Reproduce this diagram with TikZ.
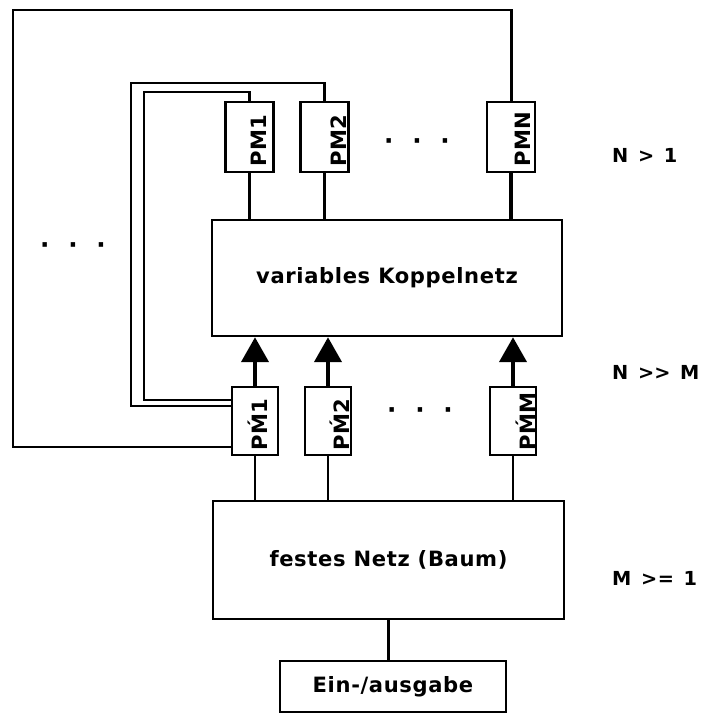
\documentclass[tikz,border=0pt]{standalone}
\usepackage{fontspec}
\setmainfont{DejaVu Sans}[LetterSpace=3]
\usetikzlibrary{arrows.meta,calc}
\newcommand{\dotrow}{{\fontsize{14}{16}\selectfont·\hspace{10.7pt}·\hspace{10.7pt}·}}

\begin{document}
\begin{tikzpicture}[x=0.02cm, y=-0.02cm, line join=miter,
	font=\bfseries\fontsize{12}{14}\selectfont,
	box/.style={draw, line width=1.4pt, inner sep=0pt},
	pmbox/.style={box, minimum width=0.96cm, minimum height=1.4cm},
	pmqbox/.style={box, minimum width=0.92cm, minimum height=1.36cm},
	pmtext/.style={rotate=90, anchor=base west, inner sep=0pt},
	loopline/.style={line width=1.7pt},
	bus/.style={line width=2.2pt},
	feed/.style={line width=1.3pt},
	flow/.style={line width=2.5pt, -{Triangle[length=0.5cm, width=0.54cm]}},
	note/.style={anchor=west, font=\bfseries\fontsize{11}{13}\selectfont}]
	\useasboundingbox (0,0) rectangle (705,716);
	\node[box, minimum width=7cm, minimum height=2.32cm] (kn) at (387,278) {variables Koppelnetz};
	\node[box, minimum width=7.02cm, minimum height=2.36cm] (fn) at (388.5,560) {festes Netz (Baum)};
	\node[box, minimum width=4.52cm, minimum height=1.02cm] (io) at (393,686.5) {Ein-/ausgabe};
	\node[pmbox] (pm1) at (249.5,137) {};
	\node[pmbox] (pm2) at (324.5,137) {};
	\node[pmbox] (pmN) at (511,137) {};
	\node[pmqbox] (pmq1) at (255,421) {};
	\node[pmqbox] (pmq2) at (328,421) {};
	\node[pmqbox] (pmqM) at (513,421) {};
	\node[pmtext] (t1) at ($(pm1.south east)+(-8,-6)$) {PM1};
	\node[pmtext] (t2) at ($(pm2.south east)+(-3,-6)$) {PM2};
	\node[pmtext] (tN) at ($(pmN.south east)+(-6,-6)$) {PMN};
	\node[pmtext] (tq1) at ($(pmq1.south east)+(-12,-5)$) {P\'M1};
	\node[pmtext] (tq2) at ($(pmq2.south east)+(-3,-5)$) {P\'M2};
	\node[pmtext] (tqM) at ($(pmqM.south east)+(-2,-5)$) {P\'MM};
	\node (dl) at (73,248) {\dotrow};
	\node (dt) at (417,144) {\dotrow};
	\node (db) at (420,413) {\dotrow};
	\node[note] (n1) at (606,155) {N\hspace{0.5em}>\hspace{0.5em}1};
	\node[note] (n2) at (606,372) {N\hspace{0.5em}>\kern0pt>\hspace{0.5em}M};
	\node[note] (n3) at (606,578) {M\hspace{0.5em}>=\hspace{0.5em}1};
	\coordinate (c1) at (144,92);
	\coordinate (c2) at (131,83);
	\coordinate (c3) at (13,10);
	\draw[loopline] (pmq1.west |- 0,400) -| (c1) -| (pm1.north);
	\draw[loopline] (pmq1.west |- 0,406) -| (c2) -| (pm2.north);
	\draw[loopline] (pmq1.west |- 0,447) -| (c3) -| (pmN.north);
	\foreach \p in {pm1,pm2,pmN}
		\draw[bus] (\p.south) -- (\p.south |- kn.north);
	\foreach \q in {pmq1,pmq2,pmqM}{
		\draw[flow] (\q.north) -- (\q.north |- kn.south);
		\draw[feed] (\q.south) -- (\q.south |- fn.north);
	}
	\draw[feed] (fn.south) -- (fn.south |- io.north);
\end{tikzpicture}
\end{document}
